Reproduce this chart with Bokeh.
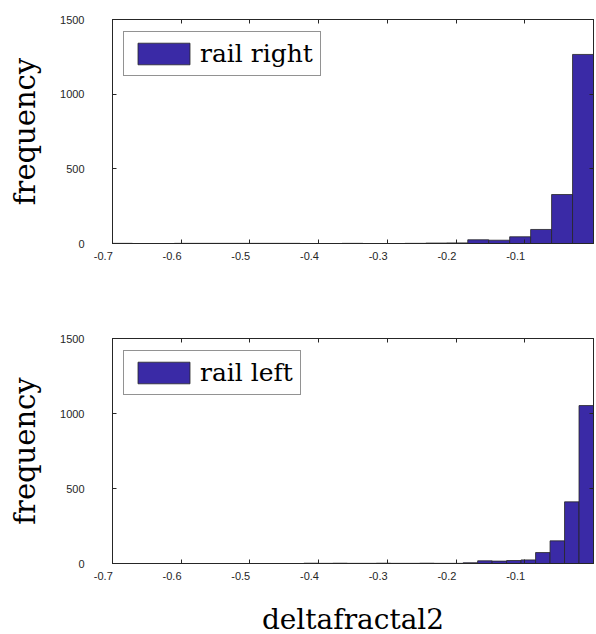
from bokeh.plotting import figure
from bokeh.layouts import column
from bokeh.models import LinearAxis, FixedTicker, Range1d, CustomLabelingPolicy
from bokeh.embed import file_html
from bokeh.resources import INLINE
import numpy as np

# ---- data ----
x_ticks = [-0.7, -0.6, -0.5, -0.4, -0.3, -0.2, -0.1]
x_tick_labels = ["-0.7", "-0.6", "-0.5", "-0.4", "-0.3", "-0.2", "-0.1"]
y_ticks = [0, 500, 1000, 1500]

right_label = "rail right"
right_bin_start = -0.7015
right_bin_width = 0.0305
right_counts = [1, 0, 0, 1, 1, 1, 1, 1, 1, 0, 0, 1, 0, 0, 1, 3, 4,
                25, 22, 45, 94, 328, 1266]

left_label = "rail left"
left_bin_start = -0.4215
left_bin_width = 0.021075
left_counts = [2, 1, 2, 1, 1, 2, 1, 1, 2, 1, 1, 5, 18, 16, 20, 24,
               73, 151, 411, 1053]

x_label = "deltafractal2"
y_label = "frequency"

BAR = "#3a2aa6"
EDGE = "#262626"
TICKC = "#262626"
NBSP = "\u00a0"


def style_axis(ax, ticks, show_labels=True):
    ax.ticker = FixedTicker(ticks=ticks)
    ax.major_tick_in = 4
    ax.major_tick_out = 0
    ax.minor_tick_line_color = None
    ax.axis_line_color = TICKC
    ax.major_tick_line_color = TICKC
    ax.major_label_text_font = "Liberation Sans"
    ax.major_label_text_color = TICKC
    ax.major_label_text_font_size = "11px"
    if not show_labels:
        ax.major_label_policy = CustomLabelingPolicy(code="return []")
        ax.major_label_standoff = 0


def make_hist(counts, start, width, label, frame_h, top, bottom, xlab):
    counts = np.asarray(counts, dtype=float)
    lefts = start + width * np.arange(len(counts))
    rights = lefts + width
    p = figure(frame_width=481, frame_height=frame_h,
               x_range=Range1d(-0.7, 0.0), y_range=Range1d(0, 1500),
               output_backend="svg", toolbar_location=None,
               min_border_left=112, min_border_right=3,
               min_border_top=top, min_border_bottom=bottom)
    p.xgrid.visible = False
    p.ygrid.visible = False
    p.outline_line_color = TICKC
    p.background_fill_color = "white"

    p.quad(left=lefts, right=rights, bottom=0, top=counts,
           fill_color=BAR, line_color=EDGE, line_width=0.8,
           legend_label=label)

    xa = p.xaxis[0]
    style_axis(xa, x_ticks)
    xa.major_label_standoff = 6
    # labels in the reference sit just left of their ticks
    xa.major_label_overrides = {t: s + NBSP * 6 for t, s in zip(x_ticks, x_tick_labels)}
    if xlab:
        xa.axis_label = xlab
        xa.axis_label_text_font = "DejaVu Serif"
        xa.axis_label_text_font_style = "normal"
        xa.axis_label_text_font_size = "28px"
        xa.axis_label_text_color = "black"
        xa.axis_label_standoff = 18

    ya = p.yaxis[0]
    style_axis(ya, y_ticks)
    ya.major_label_standoff = 28
    ya.axis_label = y_label
    ya.axis_label_text_font = "DejaVu Serif"
    ya.axis_label_text_font_style = "normal"
    ya.axis_label_text_font_size = "29px"
    ya.axis_label_text_color = "black"
    ya.axis_label_standoff = 15

    top_ax = LinearAxis()
    style_axis(top_ax, x_ticks, show_labels=False)
    p.add_layout(top_ax, "above")
    right_ax = LinearAxis()
    style_axis(right_ax, y_ticks, show_labels=False)
    p.add_layout(right_ax, "right")

    lg = p.legend[0]
    lg.location = (11, frame_h - 15 - 42)
    lg.label_text_font = "DejaVu Serif"
    lg.label_text_font_size = "25px"
    lg.label_text_color = "black"
    lg.glyph_width = 65
    lg.glyph_height = 27
    lg.padding = 7
    lg.margin = 0
    lg.spacing = 0
    lg.label_standoff = 4
    lg.border_line_color = EDGE
    lg.border_line_width = 1
    lg.background_fill_alpha = 1.0
    return p


p1 = make_hist(right_counts, right_bin_start, right_bin_width, right_label,
               224, 19, 55, None)
p2 = make_hist(left_counts, left_bin_start, left_bin_width, left_label,
               225, 40, 67, x_label)

layout = column(p1, p2, spacing=0)
open("out.html", "w").write(file_html(layout, INLINE))
